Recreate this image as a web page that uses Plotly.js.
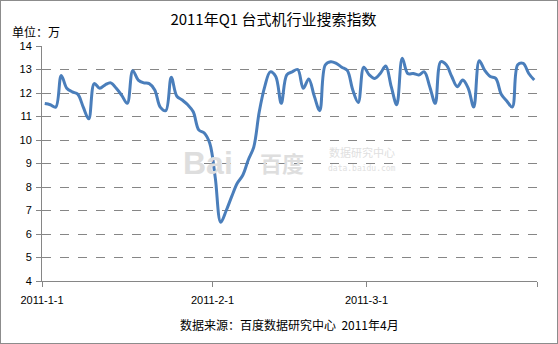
<!DOCTYPE html>
<html>
<head>
<meta charset="utf-8">
<script src="https://cdn.plot.ly/plotly-3.0.1.min.js"></script>
<style>
  html, body { margin: 0; padding: 0; background: #fff; }
  #wrap { width: 558px; height: 344px; box-sizing: border-box; border: 1px solid #8c8c8c; overflow: hidden; }
  #chart { width: 556px; height: 342px; }
</style>
</head>
<body>
<div id="wrap"><div id="chart"></div></div>
<script>
// Daily values, 2011-01-01 .. 2011-03-31 (unit: 万)
const startDate = "2011-01-01";
const values = [
  11.55, 11.5, 11.4, 12.75, 12.2, 12.05, 11.95, 11.4, 10.9, 12.4,
  12.2, 12.35, 12.43, 12.2, 11.9, 11.56, 12.95, 12.55, 12.43, 12.4,
  12.13, 11.4, 11.25, 12.67, 11.87, 11.7, 11.5, 11.2, 10.43, 10.3,
  9.86, 8.4, 6.5, 7.0, 7.6, 8.16, 8.5, 9.15, 9.7, 11.2,
  12.27, 12.9, 12.7, 11.56, 12.77, 12.9, 13.0, 12.2, 12.6, 11.87,
  11.25, 13.19, 13.33, 13.26, 13.1, 12.96, 12.13, 11.6, 13.1, 12.77,
  12.62, 12.83, 13.15, 12.27, 11.5, 13.48, 12.83, 12.83, 12.77, 12.9,
  12.27, 11.56, 13.33, 13.2, 12.7, 12.27, 12.55, 12.2, 11.4, 13.37,
  12.96, 12.7, 12.62, 11.95, 11.66, 11.4, 13.2, 13.26, 12.83, 12.55
];
const tickDates = ["2011-01-01", "2011-02-01", "2011-03-01", "2011-04-01"];
const tickLabels = ["2011-1-1", "2011-2-1", "2011-3-1", ""];
const yTicks = [4, 5, 6, 7, 8, 9, 10, 11, 12, 13, 14];

// x positions: each day's point sits in the middle of its day slot
const dates = values.map((v, i) => {
  const d = new Date(startDate + "T12:00:00Z");
  d.setUTCDate(d.getUTCDate() + i);
  return d.toISOString().slice(0, 10) + " 12:00";
});

const gridCol = "#868686";
const cjk = "Noto Sans CJK SC, sans-serif";

const trace = {
  x: dates, y: values, type: "scatter", mode: "lines",
  line: { color: "#4a7ebb", width: 3, shape: "spline", smoothing: 1 },
  hoverinfo: "x+y"
};

const layout = {
  width: 556, height: 342,
  margin: { l: 41, r: 20, t: 45, b: 62 },
  paper_bgcolor: "#ffffff", plot_bgcolor: "#ffffff",
  showlegend: false,
  font: { family: cjk, size: 11, color: "#000" },
  title: {
    text: "2011年Q1 台式机行业搜索指数",
    font: { family: cjk, size: 15, color: "#000" },
    xref: "container", x: 0.49, xanchor: "center",
    yref: "container", y: 1 - 19 / 342, yanchor: "middle"
  },
  xaxis: {
    type: "date",
    range: ["2011-01-01", "2011-04-01"],
    tickmode: "array", tickvals: tickDates, ticktext: tickLabels,
    showgrid: false, zeroline: false,
    showline: true, linecolor: gridCol, linewidth: 1,
    ticks: "outside", ticklen: 5, tickcolor: gridCol,
    tickfont: { family: "Liberation Sans, sans-serif", size: 11, color: "#000" },
    ticklabelstandoff: 4,
    fixedrange: true
  },
  yaxis: {
    range: [4, 14],
    tickmode: "array", tickvals: yTicks,
    showgrid: true, gridcolor: gridCol, griddash: "dash", gridwidth: 1,
    zeroline: false,
    showline: true, linecolor: gridCol, linewidth: 1,
    ticks: "outside", ticklen: 5, tickcolor: gridCol,
    tickfont: { family: "Liberation Sans, sans-serif", size: 11, color: "#000" },
    ticklabelstandoff: 2,
    fixedrange: true
  },
  annotations: [
    { text: "单位：万", xref: "paper", yref: "paper", x: -41 / 495 + 9 / 495, y: 1 + 14 / 235,
      xanchor: "left", yanchor: "middle", showarrow: false,
      font: { family: cjk, size: 12, color: "#000" } },
    { text: "数据来源：百度数据研究中心  2011年4月", xref: "paper", yref: "paper",
      x: (289 - 42) / 495, y: -(324 - 281) / 235,
      xanchor: "center", yanchor: "middle", showarrow: false,
      font: { family: cjk, size: 12, color: "#000" } },
    // faint watermark
    { text: "<b>Bai</b>", xref: "paper", yref: "paper", x: (208 - 42) / 495, y: (281 - 163) / 235,
      xanchor: "center", yanchor: "middle", showarrow: false,
      font: { family: "Liberation Sans, sans-serif", size: 32, color: "#dedede" } },
    { text: "<b>百度</b>", xref: "paper", yref: "paper", x: (282 - 42) / 495, y: (281 - 162) / 235,
      xanchor: "center", yanchor: "middle", showarrow: false,
      font: { family: cjk, size: 22, color: "#dedede" } },
    { text: "数据研究中心", xref: "paper", yref: "paper", x: (362 - 42) / 495, y: (281 - 152) / 235,
      xanchor: "center", yanchor: "middle", showarrow: false,
      font: { family: cjk, size: 11, color: "#e0e0e0" } },
    { text: "data.baidu.com", xref: "paper", yref: "paper", x: (362 - 42) / 495, y: (281 - 168) / 235,
      xanchor: "center", yanchor: "middle", showarrow: false,
      font: { family: "DejaVu Sans Mono, monospace", size: 8, color: "#e0e0e0" } }
  ]
};

Plotly.newPlot("chart", [trace], layout, { displayModeBar: false, staticPlot: true });
</script>
</body>
</html>
